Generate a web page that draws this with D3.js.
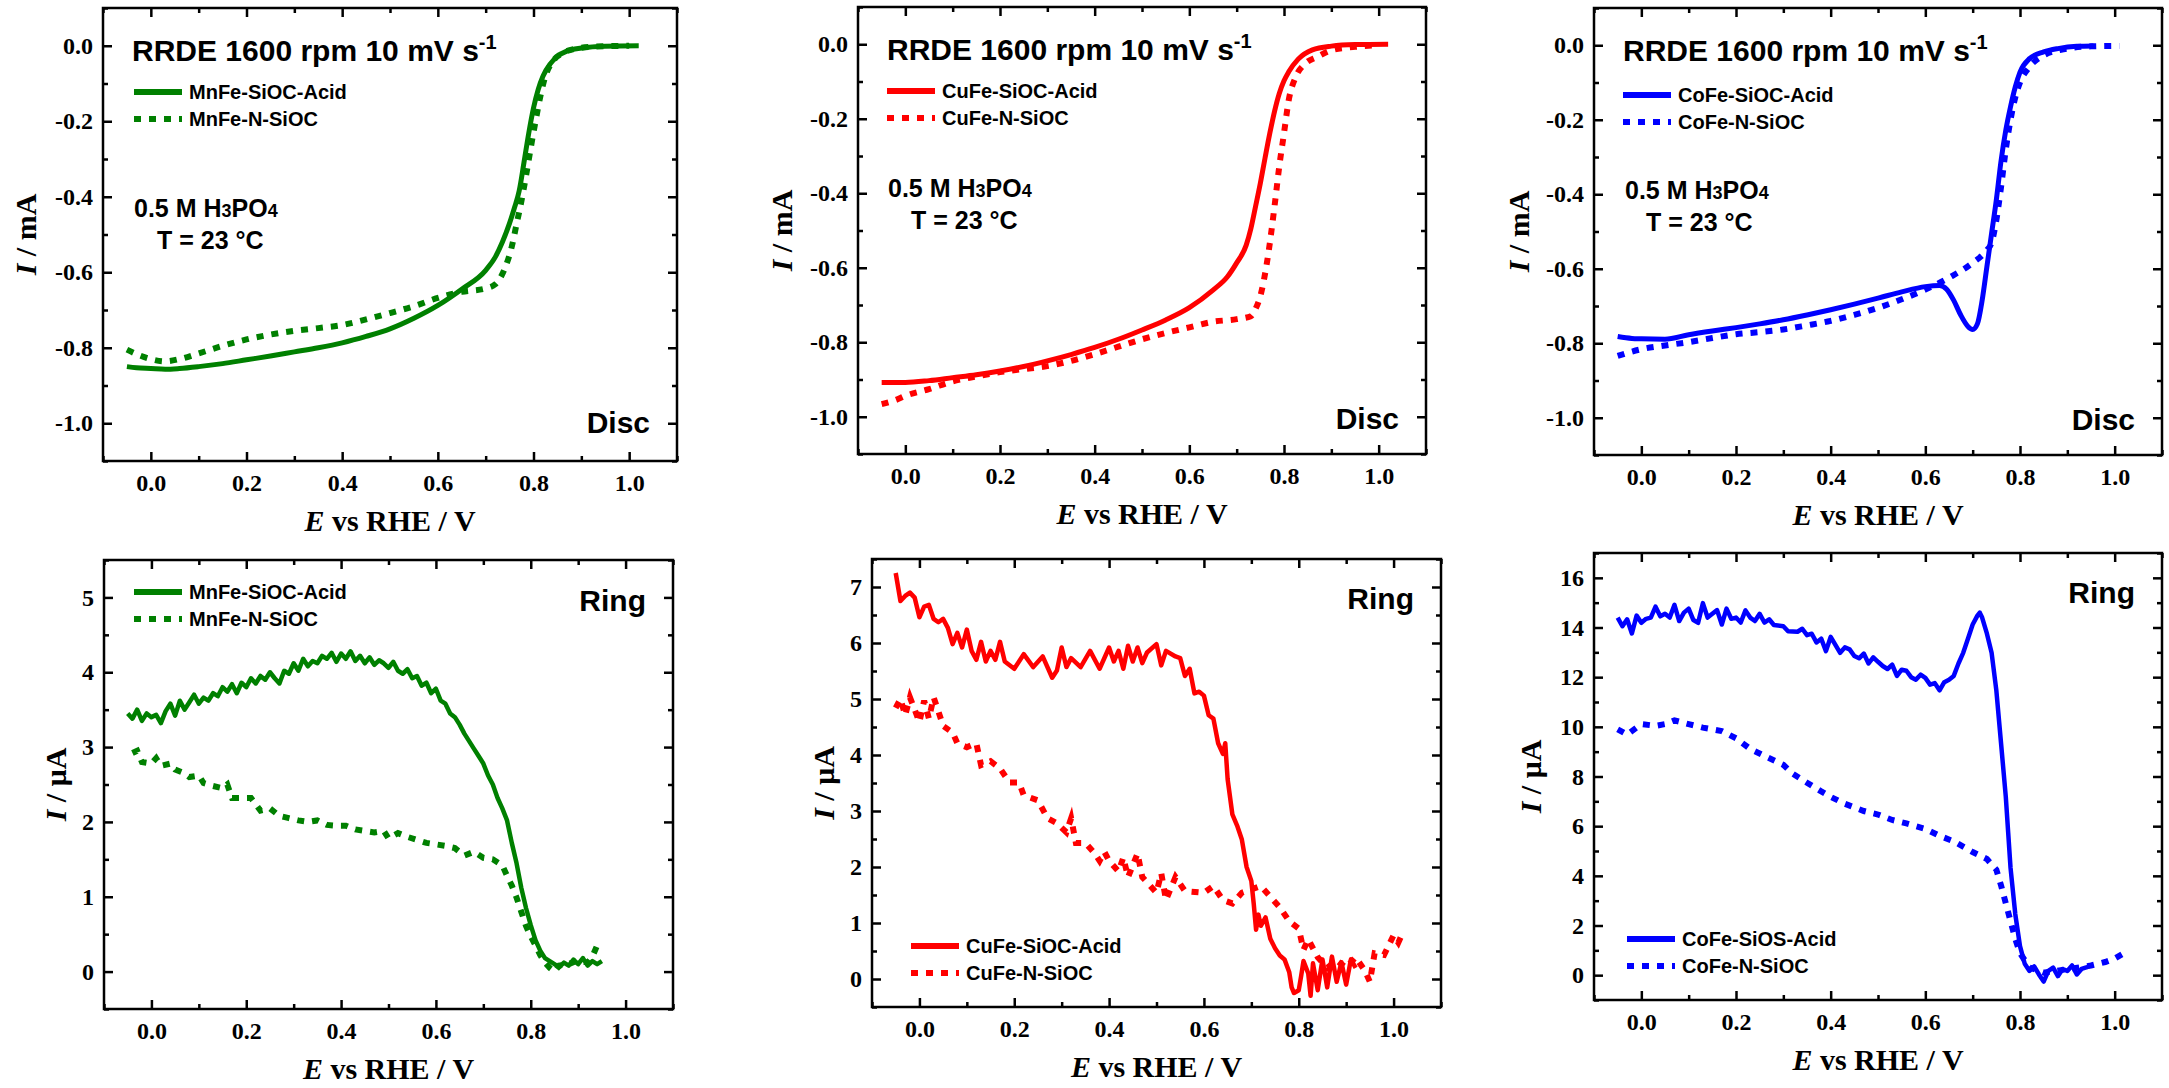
<!DOCTYPE html>
<html>
<head>
<meta charset="utf-8">
<script src="https://cdnjs.cloudflare.com/ajax/libs/d3/7.8.5/d3.min.js"></script>
<style>
  body { margin: 0; background: #fff; }
  svg { display: block; }
</style>
</head>
<body>
<svg id="chart" width="2169" height="1088"></svg>
<script>

// ---- data: [E vs RHE (V), I] ----

// disc currents (mA)
var mnAcidDisc = [[-0.05,-0.850],[-0.03,-0.853],[0.0,-0.855],[0.03,-0.857],[0.06,-0.855],[0.1,-0.850],[0.15,-0.842],[0.2,-0.832],[0.25,-0.822],[0.3,-0.811],[0.35,-0.800],[0.4,-0.787],[0.45,-0.770],[0.5,-0.750],[0.55,-0.722],[0.6,-0.688],[0.65,-0.645],[0.7,-0.595],[0.72,-0.560],[0.735,-0.520],[0.75,-0.470],[0.76,-0.430],[0.77,-0.385],[0.78,-0.310],[0.79,-0.232],[0.8,-0.165],[0.81,-0.115],[0.82,-0.080],[0.835,-0.048],[0.85,-0.028],[0.87,-0.014],[0.9,-0.006],[0.95,-0.001],[1.02,0.0]];
var mnNDisc = [[-0.05,-0.805],[-0.02,-0.822],[0.0,-0.830],[0.03,-0.836],[0.06,-0.830],[0.1,-0.815],[0.15,-0.795],[0.2,-0.778],[0.25,-0.765],[0.3,-0.755],[0.35,-0.748],[0.4,-0.740],[0.45,-0.725],[0.5,-0.708],[0.55,-0.690],[0.6,-0.668],[0.65,-0.652],[0.7,-0.643],[0.72,-0.632],[0.74,-0.590],[0.755,-0.530],[0.765,-0.470],[0.775,-0.410],[0.785,-0.340],[0.795,-0.265],[0.805,-0.195],[0.815,-0.130],[0.825,-0.080],[0.84,-0.042],[0.86,-0.020],[0.88,-0.010],[0.92,-0.003],[1.0,0.0]];
var cuAcidDisc = [[-0.05,-0.908],[0.0,-0.908],[0.05,-0.903],[0.1,-0.895],[0.15,-0.887],[0.2,-0.877],[0.25,-0.865],[0.3,-0.850],[0.35,-0.833],[0.4,-0.814],[0.45,-0.792],[0.5,-0.767],[0.55,-0.740],[0.6,-0.707],[0.65,-0.660],[0.68,-0.625],[0.7,-0.587],[0.72,-0.540],[0.73,-0.495],[0.74,-0.435],[0.75,-0.373],[0.76,-0.305],[0.77,-0.239],[0.78,-0.180],[0.79,-0.132],[0.8,-0.098],[0.81,-0.074],[0.83,-0.040],[0.86,-0.015],[0.9,-0.005],[0.95,-0.001],[1.02,0.0]];
var cuNDisc = [[-0.05,-0.966],[-0.02,-0.955],[0.0,-0.944],[0.05,-0.926],[0.1,-0.905],[0.15,-0.892],[0.2,-0.880],[0.25,-0.872],[0.3,-0.864],[0.35,-0.850],[0.4,-0.832],[0.45,-0.812],[0.5,-0.792],[0.55,-0.775],[0.6,-0.760],[0.65,-0.745],[0.7,-0.738],[0.73,-0.730],[0.74,-0.710],[0.75,-0.676],[0.765,-0.578],[0.78,-0.435],[0.79,-0.328],[0.8,-0.239],[0.81,-0.150],[0.825,-0.087],[0.845,-0.052],[0.87,-0.034],[0.9,-0.016],[0.95,-0.007],[1.0,-0.002]];
var coAcidDisc = [[-0.05,-0.782],[-0.02,-0.787],[0.0,-0.788],[0.05,-0.789],[0.1,-0.777],[0.15,-0.767],[0.2,-0.758],[0.25,-0.748],[0.3,-0.737],[0.35,-0.724],[0.4,-0.710],[0.45,-0.695],[0.5,-0.679],[0.55,-0.662],[0.6,-0.648],[0.63,-0.645],[0.645,-0.655],[0.66,-0.685],[0.675,-0.725],[0.69,-0.755],[0.70,-0.763],[0.71,-0.748],[0.72,-0.685],[0.73,-0.595],[0.74,-0.505],[0.75,-0.415],[0.76,-0.310],[0.77,-0.228],[0.78,-0.165],[0.79,-0.112],[0.8,-0.072],[0.82,-0.036],[0.85,-0.018],[0.88,-0.009],[0.92,-0.003],[0.955,-0.002]];
var coNDisc = [[-0.05,-0.834],[0.0,-0.816],[0.05,-0.806],[0.1,-0.797],[0.15,-0.786],[0.2,-0.776],[0.25,-0.770],[0.3,-0.763],[0.35,-0.752],[0.4,-0.740],[0.45,-0.724],[0.5,-0.705],[0.55,-0.682],[0.6,-0.656],[0.65,-0.624],[0.7,-0.584],[0.73,-0.550],[0.74,-0.530],[0.75,-0.470],[0.76,-0.380],[0.77,-0.280],[0.78,-0.200],[0.79,-0.140],[0.8,-0.100],[0.82,-0.058],[0.85,-0.027],[0.9,-0.009],[0.95,-0.003],[1.01,-0.002]];

// ring currents (uA)
var mnAcidRing = [[-0.05,3.45],[-0.04,3.38],[-0.03,3.50],[-0.02,3.35],[-0.01,3.45],[0.0,3.40],[0.01,3.43],[0.02,3.32],[0.03,3.48],[0.04,3.58],[0.05,3.42],[0.06,3.62],[0.07,3.50],[0.08,3.60],[0.09,3.70],[0.1,3.58],[0.11,3.66],[0.12,3.62],[0.13,3.72],[0.14,3.68],[0.15,3.80],[0.16,3.74],[0.17,3.84],[0.18,3.72],[0.19,3.86],[0.2,3.80],[0.21,3.92],[0.22,3.85],[0.23,3.95],[0.24,3.90],[0.25,4.00],[0.26,3.92],[0.27,3.85],[0.28,4.02],[0.29,3.98],[0.3,4.12],[0.31,4.02],[0.32,4.18],[0.33,4.08],[0.34,4.15],[0.35,4.12],[0.36,4.22],[0.37,4.18],[0.38,4.26],[0.39,4.14],[0.4,4.25],[0.41,4.18],[0.42,4.28],[0.43,4.15],[0.44,4.22],[0.45,4.12],[0.46,4.20],[0.47,4.10],[0.48,4.16],[0.49,4.12],[0.5,4.06],[0.51,4.14],[0.52,4.02],[0.53,3.98],[0.54,4.04],[0.55,3.92],[0.56,3.95],[0.57,3.82],[0.58,3.86],[0.59,3.72],[0.6,3.78],[0.61,3.62],[0.62,3.58],[0.63,3.45],[0.64,3.40],[0.65,3.30],[0.66,3.18],[0.67,3.08],[0.68,2.98],[0.69,2.88],[0.7,2.78],[0.71,2.62],[0.72,2.50],[0.73,2.32],[0.74,2.18],[0.75,2.02],[0.76,1.72],[0.77,1.45],[0.78,1.12],[0.79,0.85],[0.8,0.62],[0.81,0.42],[0.82,0.28],[0.83,0.18],[0.84,0.14],[0.85,0.10],[0.86,0.06],[0.87,0.12],[0.88,0.08],[0.89,0.16],[0.9,0.10],[0.91,0.18],[0.92,0.08],[0.93,0.14],[0.94,0.10],[0.95,0.14]];
var mnNRing = [[-0.04,2.92],[-0.03,2.95],[-0.02,2.80],[0.0,2.78],[0.01,2.85],[0.02,2.75],[0.04,2.78],[0.05,2.70],[0.07,2.65],[0.08,2.60],[0.1,2.62],[0.11,2.52],[0.13,2.48],[0.15,2.45],[0.16,2.50],[0.17,2.32],[0.19,2.32],[0.21,2.32],[0.23,2.15],[0.25,2.18],[0.27,2.08],[0.29,2.05],[0.31,2.02],[0.33,2.00],[0.35,2.02],[0.37,1.96],[0.39,1.95],[0.41,1.95],[0.43,1.90],[0.45,1.88],[0.47,1.86],[0.49,1.88],[0.5,1.78],[0.52,1.85],[0.54,1.80],[0.56,1.76],[0.58,1.72],[0.6,1.70],[0.62,1.68],[0.64,1.65],[0.66,1.55],[0.68,1.60],[0.7,1.52],[0.72,1.50],[0.74,1.42],[0.75,1.28],[0.76,1.15],[0.77,0.99],[0.78,0.80],[0.79,0.61],[0.8,0.47],[0.81,0.35],[0.82,0.22],[0.83,0.12],[0.84,0.05],[0.85,0.0],[0.86,0.08],[0.88,0.10],[0.9,0.15],[0.92,0.12],[0.93,0.20],[0.94,0.35],[0.945,0.42]];
var cuAcidRing = [[-0.05,7.25],[-0.04,6.75],[-0.03,6.84],[-0.02,6.90],[-0.01,6.81],[0.0,6.46],[0.01,6.65],[0.02,6.68],[0.03,6.43],[0.04,6.37],[0.05,6.43],[0.06,6.27],[0.07,5.98],[0.08,6.18],[0.09,5.92],[0.1,6.24],[0.11,5.86],[0.12,5.70],[0.13,6.02],[0.14,5.67],[0.15,5.86],[0.16,5.70],[0.17,6.02],[0.18,5.67],[0.2,5.54],[0.22,5.80],[0.24,5.57],[0.26,5.76],[0.28,5.38],[0.29,5.51],[0.3,5.92],[0.31,5.57],[0.32,5.73],[0.34,5.57],[0.36,5.86],[0.38,5.54],[0.4,5.92],[0.41,5.67],[0.42,5.86],[0.43,5.54],[0.44,5.95],[0.45,5.67],[0.46,5.92],[0.47,5.64],[0.48,5.83],[0.5,5.98],[0.51,5.60],[0.52,5.86],[0.54,5.76],[0.55,5.73],[0.56,5.41],[0.57,5.54],[0.58,5.10],[0.59,5.13],[0.6,5.06],[0.61,4.71],[0.62,4.65],[0.63,4.21],[0.64,4.02],[0.645,4.21],[0.65,3.57],[0.66,2.94],[0.67,2.74],[0.68,2.49],[0.69,2.00],[0.7,1.75],[0.705,1.35],[0.71,0.88],[0.715,1.15],[0.72,0.95],[0.73,1.10],[0.74,0.72],[0.75,0.55],[0.76,0.42],[0.77,0.35],[0.78,0.12],[0.785,-0.15],[0.79,-0.25],[0.8,-0.20],[0.805,0.05],[0.81,0.32],[0.82,0.10],[0.825,-0.30],[0.83,0.28],[0.84,-0.20],[0.85,0.35],[0.86,-0.15],[0.87,0.40],[0.88,-0.05],[0.89,0.30],[0.9,-0.10],[0.91,0.35],[0.92,0.20]];
var cuNRing = [[-0.05,4.84],[-0.04,5.00],[-0.03,4.71],[-0.02,5.03],[0.0,4.59],[0.01,4.97],[0.02,4.65],[0.03,5.03],[0.04,4.78],[0.05,4.52],[0.07,4.40],[0.08,4.21],[0.1,4.14],[0.12,4.21],[0.13,3.82],[0.15,3.89],[0.17,3.76],[0.19,3.51],[0.21,3.51],[0.22,3.28],[0.25,3.19],[0.27,2.87],[0.29,2.78],[0.31,2.62],[0.32,2.87],[0.33,2.43],[0.35,2.43],[0.37,2.24],[0.38,2.11],[0.39,2.27],[0.4,2.11],[0.42,1.92],[0.43,2.17],[0.44,1.82],[0.46,2.24],[0.47,1.82],[0.5,1.54],[0.51,1.89],[0.52,1.41],[0.54,1.82],[0.56,1.57],[0.6,1.54],[0.62,1.66],[0.64,1.41],[0.66,1.35],[0.68,1.54],[0.7,1.60],[0.72,1.66],[0.74,1.47],[0.76,1.28],[0.78,1.03],[0.8,0.90],[0.81,0.52],[0.82,0.71],[0.84,0.39],[0.86,0.20],[0.88,0.33],[0.9,0.20],[0.92,0.39],[0.94,0.14],[0.95,-0.05],[0.96,0.46],[0.98,0.43],[1.0,0.78],[1.01,0.65],[1.02,0.84]];
var coAcidRing = [[-0.05,14.40],[-0.04,14.05],[-0.03,14.33],[-0.02,13.76],[-0.01,14.48],[0.0,14.19],[0.01,14.35],[0.02,14.40],[0.03,14.84],[0.04,14.45],[0.05,14.55],[0.06,14.40],[0.07,14.91],[0.08,14.26],[0.09,14.60],[0.1,14.76],[0.11,14.30],[0.12,14.19],[0.13,14.98],[0.14,14.40],[0.15,14.55],[0.16,14.70],[0.17,14.12],[0.18,14.76],[0.19,14.35],[0.2,14.40],[0.21,14.20],[0.22,14.69],[0.23,14.40],[0.24,14.26],[0.25,14.55],[0.26,14.20],[0.27,14.33],[0.28,14.10],[0.3,14.05],[0.31,13.85],[0.33,13.83],[0.34,13.95],[0.35,13.69],[0.36,13.75],[0.37,13.40],[0.38,13.55],[0.39,13.05],[0.4,13.62],[0.41,13.30],[0.42,12.98],[0.43,13.20],[0.44,13.12],[0.45,12.85],[0.46,12.76],[0.47,12.95],[0.48,12.55],[0.49,12.80],[0.5,12.62],[0.51,12.45],[0.52,12.33],[0.53,12.50],[0.54,12.05],[0.55,12.30],[0.56,12.26],[0.57,12.00],[0.58,11.90],[0.59,12.10],[0.6,11.97],[0.61,11.70],[0.62,11.76],[0.63,11.47],[0.64,11.80],[0.65,11.90],[0.66,12.05],[0.67,12.55],[0.68,12.98],[0.69,13.55],[0.7,14.12],[0.71,14.48],[0.715,14.60],[0.72,14.40],[0.73,13.76],[0.74,12.98],[0.75,11.47],[0.76,9.33],[0.77,7.18],[0.775,5.75],[0.78,4.32],[0.79,2.46],[0.8,1.17],[0.81,0.46],[0.82,0.17],[0.83,0.35],[0.84,0.03],[0.85,-0.26],[0.86,0.17],[0.87,0.30],[0.88,-0.04],[0.89,0.25],[0.9,0.17],[0.91,0.39],[0.92,0.03],[0.93,0.25],[0.94,0.31],[0.95,0.39]];
var coNRing = [[-0.05,9.90],[-0.03,9.69],[-0.01,9.97],[0.0,10.11],[0.03,10.04],[0.05,10.11],[0.07,10.26],[0.1,10.11],[0.13,9.97],[0.17,9.83],[0.2,9.54],[0.23,9.11],[0.26,8.83],[0.3,8.47],[0.32,8.11],[0.35,7.75],[0.38,7.40],[0.4,7.18],[0.43,6.90],[0.47,6.61],[0.5,6.47],[0.53,6.25],[0.56,6.11],[0.6,5.89],[0.63,5.61],[0.66,5.39],[0.7,4.96],[0.73,4.68],[0.75,4.25],[0.76,3.61],[0.77,2.89],[0.78,2.17],[0.79,1.46],[0.8,0.89],[0.82,0.31],[0.85,0.10],[0.9,0.24],[0.95,0.39],[0.98,0.53],[1.0,0.67],[1.02,0.89]];

// axis settings
var xDomain = [-0.1, 1.1];
var xMajor = [0.0, 0.2, 0.4, 0.6, 0.8, 1.0];
var xMinor = [-0.1, 0.1, 0.3, 0.5, 0.7, 0.9, 1.1];
var discDomain = [-1.1, 0.1];
var discMajor = [0.0, -0.2, -0.4, -0.6, -0.8, -1.0];
var discMinor = [0.1, -0.1, -0.3, -0.5, -0.7, -0.9, -1.1];
var mnRingDomain = [-0.5, 5.5];
var mnRingMajor = [0, 1, 2, 3, 4, 5];
var mnRingMinor = [-0.5, 0.5, 1.5, 2.5, 3.5, 4.5, 5.5];
var cuRingDomain = [-0.5, 7.5];
var cuRingMajor = [0, 1, 2, 3, 4, 5, 6, 7];
var cuRingMinor = [-0.5, 0.5, 1.5, 2.5, 3.5, 4.5, 5.5, 6.5, 7.5];
var coRingDomain = [-1, 17];
var coRingMajor = [0, 2, 4, 6, 8, 10, 12, 14, 16];
var coRingMinor = [-1, 1, 3, 5, 7, 9, 11, 13, 15, 17];

var svg = d3.select("svg#chart");
var serif = "'Liberation Serif', 'Times New Roman', serif";
var sans = "'Liberation Sans', Arial, sans-serif";

var green = "#008000", red = "#ff0000", blue = "#0000ff";
var dotted = "7,8";

var panels = [
  // top row: disc
  {id: "a", left: 103, right: 677, top: 8, bottom: 461, yDomain: discDomain, yMajor: discMajor, yMinor: discMinor,
   fmt: function(d) { return d.toFixed(1); }, unit: "mA", color: green, titleOff: 77, smooth: true,
   solid: mnAcidDisc, dot: mnNDisc, names: ["MnFe-SiOC-Acid", "MnFe-N-SiOC"],
   leg: {x: 31, y: 84}, conc: {x: 31, y: 208, tx: 54}, label: "Disc", labelY: 433},
  {id: "b", left: 858, right: 1426, top: 7, bottom: 454, yDomain: discDomain, yMajor: discMajor, yMinor: discMinor,
   fmt: function(d) { return d.toFixed(1); }, unit: "mA", color: red, titleOff: 76, smooth: true,
   solid: cuAcidDisc, dot: cuNDisc, names: ["CuFe-SiOC-Acid", "CuFe-N-SiOC"],
   leg: {x: 29, y: 84}, conc: {x: 30, y: 188, tx: 53}, label: "Disc", labelY: 429},
  {id: "c", left: 1594, right: 2162, top: 8, bottom: 455, yDomain: discDomain, yMajor: discMajor, yMinor: discMinor,
   fmt: function(d) { return d.toFixed(1); }, unit: "mA", color: blue, titleOff: 75, smooth: true,
   solid: coAcidDisc, dot: coNDisc, names: ["CoFe-SiOC-Acid", "CoFe-N-SiOC"],
   leg: {x: 29, y: 87}, conc: {x: 31, y: 190, tx: 52}, label: "Disc", labelY: 430},
  // bottom row: ring
  {id: "d", left: 104, right: 673, top: 560, bottom: 1009, yDomain: mnRingDomain, yMajor: mnRingMajor, yMinor: mnRingMinor,
   fmt: function(d) { return String(d); }, unit: "\u03bcA", color: green, titleOff: 48, smooth: false,
   solid: mnAcidRing, dot: mnNRing, names: ["MnFe-SiOC-Acid", "MnFe-N-SiOC"],
   leg: {x: 30, y: 32}, label: "Ring", labelY: 611},
  {id: "e", left: 872, right: 1441, top: 559, bottom: 1007, yDomain: cuRingDomain, yMajor: cuRingMajor, yMinor: cuRingMinor,
   fmt: function(d) { return String(d); }, unit: "\u03bcA", color: red, titleOff: 48, smooth: false,
   solid: cuAcidRing, dot: cuNRing, names: ["CuFe-SiOC-Acid", "CuFe-N-SiOC"],
   leg: {x: 39, y: 387}, label: "Ring", labelY: 609},
  {id: "f", left: 1594, right: 2162, top: 553, bottom: 1000, yDomain: coRingDomain, yMajor: coRingMajor, yMinor: coRingMinor,
   fmt: function(d) { return String(d); }, unit: "\u03bcA", color: blue, titleOff: 63, smooth: false,
   solid: coAcidRing, dot: coNRing, names: ["CoFe-SiOS-Acid", "CoFe-N-SiOC"],
   leg: {x: 33, y: 386}, label: "Ring", labelY: 603}
];

panels.forEach(drawPanel);

function drawPanel(p) {

  var x = d3.scaleLinear().domain(xDomain).range([p.left, p.right]);
  var y = d3.scaleLinear().domain(p.yDomain).range([p.bottom, p.top]);

  var g = svg.append("g").attr("class", "panel-" + p.id);

  g.append("clipPath")
      .attr("id", "clip-" + p.id)
    .append("rect")
      .attr("x", p.left)
      .attr("y", p.top)
      .attr("width", p.right - p.left)
      .attr("height", p.bottom - p.top);

  //curves

  var line = d3.line()
      .x(function(d) { return x(d[0]); })
      .y(function(d) { return y(d[1]); })
      .curve(p.smooth ? d3.curveMonotoneX : d3.curveLinear);

  var curves = g.append("g").attr("clip-path", "url(#clip-" + p.id + ")");

  curves.append("path")
      .datum(p.dot)
      .attr("d", line)
      .attr("fill", "none")
      .attr("stroke", p.color)
      .attr("stroke-width", 6)
      .style("stroke-dasharray", dotted);

  curves.append("path")
      .datum(p.solid)
      .attr("d", line)
      .attr("fill", "none")
      .attr("stroke", p.color)
      .attr("stroke-width", p.smooth ? 5 : 4.5)
      .attr("stroke-linejoin", "round");

  //axes, ticks pointing inwards on all sides

  function styleAxis(sel) {
    sel.select(".domain").remove();
    sel.selectAll(".tick line").attr("stroke", "#000").attr("stroke-width", 2.5);
    sel.selectAll("text")
        .attr("fill", "#000")
        .attr("font-family", serif)
        .attr("font-weight", "bold")
        .attr("font-size", "24px");
  }

  g.append("g")
      .attr("transform", "translate(0," + p.bottom + ")")
      .call(d3.axisBottom(x).tickValues(xMajor).tickSize(-9).tickPadding(13)
        .tickFormat(function(d) { return d.toFixed(1); }))
      .call(styleAxis);
  g.append("g")
      .attr("transform", "translate(0," + p.bottom + ")")
      .call(d3.axisBottom(x).tickValues(xMinor).tickSize(-5).tickFormat(""))
      .call(styleAxis);
  g.append("g")
      .attr("transform", "translate(0," + p.top + ")")
      .call(d3.axisTop(x).tickValues(xMajor).tickSize(-9).tickFormat(""))
      .call(styleAxis);
  g.append("g")
      .attr("transform", "translate(0," + p.top + ")")
      .call(d3.axisTop(x).tickValues(xMinor).tickSize(-5).tickFormat(""))
      .call(styleAxis);

  g.append("g")
      .attr("transform", "translate(" + p.left + ",0)")
      .call(d3.axisLeft(y).tickValues(p.yMajor).tickSize(-9).tickPadding(10).tickFormat(p.fmt))
      .call(styleAxis);
  g.append("g")
      .attr("transform", "translate(" + p.left + ",0)")
      .call(d3.axisLeft(y).tickValues(p.yMinor).tickSize(-5).tickFormat(""))
      .call(styleAxis);
  g.append("g")
      .attr("transform", "translate(" + p.right + ",0)")
      .call(d3.axisRight(y).tickValues(p.yMajor).tickSize(-9).tickFormat(""))
      .call(styleAxis);
  g.append("g")
      .attr("transform", "translate(" + p.right + ",0)")
      .call(d3.axisRight(y).tickValues(p.yMinor).tickSize(-5).tickFormat(""))
      .call(styleAxis);

  g.append("rect")
      .attr("x", p.left)
      .attr("y", p.top)
      .attr("width", p.right - p.left)
      .attr("height", p.bottom - p.top)
      .attr("fill", "none")
      .attr("stroke", "#000")
      .attr("stroke-width", 2.5);

  //axis titles

  var xt = g.append("text")
      .attr("x", (p.left + p.right) / 2)
      .attr("y", p.bottom + 70)
      .attr("text-anchor", "middle")
      .attr("font-family", serif)
      .attr("font-weight", "bold")
      .attr("font-size", "30px");
  xt.append("tspan").attr("font-style", "italic").text("E");
  xt.append("tspan").text(" vs RHE / V");

  var yc = (p.top + p.bottom) / 2;
  var yt = g.append("text")
      .attr("transform", "translate(" + (p.left - p.titleOff + 10) + "," + yc + ") rotate(-90)")
      .attr("text-anchor", "middle")
      .attr("font-family", serif)
      .attr("font-weight", "bold")
      .attr("font-size", "30px");
  yt.append("tspan").attr("font-style", "italic").text("I");
  yt.append("tspan").text(" / " + p.unit);

  //Disc / Ring label

  g.append("text")
      .attr("x", p.right - 27)
      .attr("y", p.labelY)
      .attr("text-anchor", "end")
      .attr("font-family", sans)
      .attr("font-weight", "bold")
      .attr("font-size", "30px")
      .text(p.label);

  //legend

  var lx = p.left + p.leg.x, ly = p.top + p.leg.y;
  g.append("line")
      .attr("x1", lx).attr("x2", lx + 48)
      .attr("y1", ly).attr("y2", ly)
      .attr("stroke", p.color)
      .attr("stroke-width", 6);
  g.append("line")
      .attr("x1", lx).attr("x2", lx + 48)
      .attr("y1", ly + 27).attr("y2", ly + 27)
      .attr("stroke", p.color)
      .attr("stroke-width", 6)
      .style("stroke-dasharray", dotted);
  g.selectAll(".legtext")
    .data(p.names)
    .enter().append("text")
      .attr("x", lx + 55)
      .attr("y", function(d, i) { return ly + 7 + i * 27; })
      .attr("font-family", sans)
      .attr("font-weight", "bold")
      .attr("font-size", "20px")
      .text(function(d) { return d; });

  //conditions text (disc panels only)

  if (p.conc) {
    var title = g.append("text")
        .attr("x", p.left + 29)
        .attr("y", p.top + 53)
        .attr("font-family", sans)
        .attr("font-weight", "bold")
        .attr("font-size", "30px");
    title.append("tspan").text("RRDE 1600 rpm 10 mV s");
    title.append("tspan").attr("font-size", "20px").attr("dy", -12).text("-1");

    var c1 = g.append("text")
        .attr("x", p.left + p.conc.x)
        .attr("y", p.conc.y + 9)
        .attr("font-family", sans)
        .attr("font-weight", "bold")
        .attr("font-size", "25px");
    c1.append("tspan").text("0.5 M H");
    c1.append("tspan").attr("font-size", "18px").text("3");
    c1.append("tspan").text("PO");
    c1.append("tspan").attr("font-size", "18px").text("4");

    g.append("text")
        .attr("x", p.left + p.conc.tx)
        .attr("y", p.conc.y + 41)
        .attr("font-family", sans)
        .attr("font-weight", "bold")
        .attr("font-size", "25px")
        .text("T = 23 \u00b0C");
  }
}

</script>
</body>
</html>
